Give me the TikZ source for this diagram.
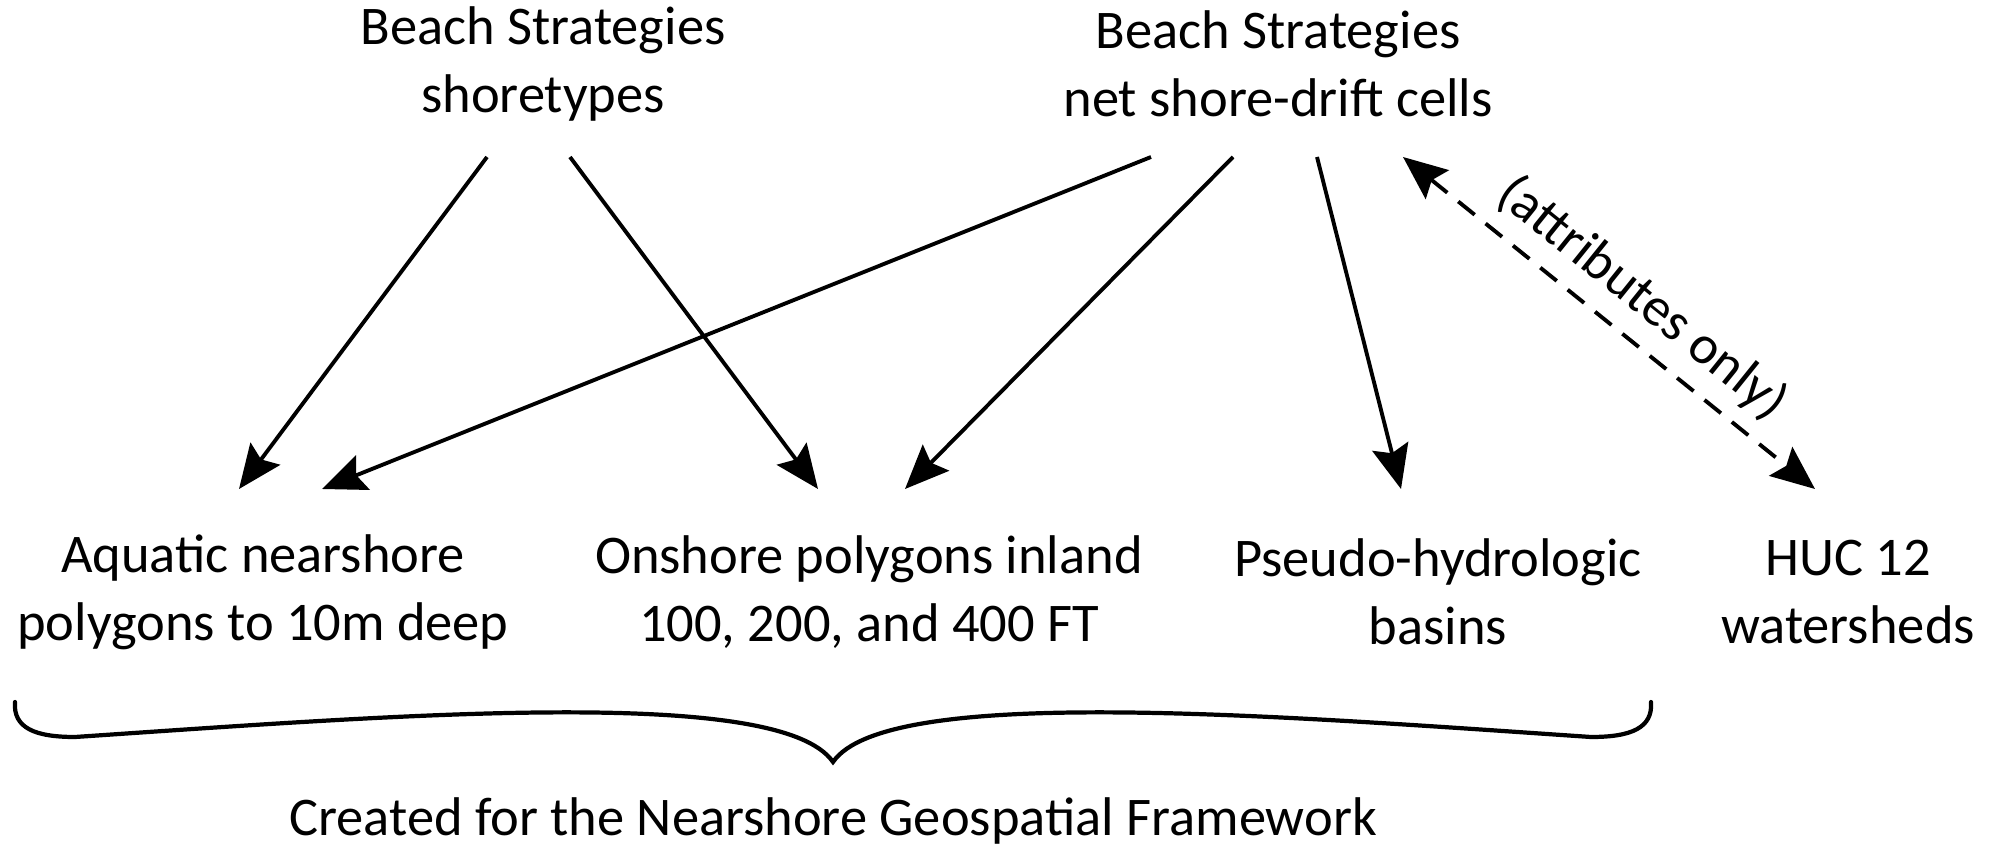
\documentclass[tikz,border=0pt]{standalone}
\usepackage{fontspec}
\setmainfont{Carlito}
\usetikzlibrary{calc, positioning, arrows.meta}

\begin{document}
\begin{tikzpicture}[x=0.02cm, y=-0.02cm, font=\fontsize{31}{38.5}\selectfont,
  layer/.style={align=center, inner sep=0pt},
  link/.style={line width=2.2pt, -{Stealth[length=25pt, width=21pt, inset=4pt]}},
  attr/.style={line width=2.2pt, dash pattern=on 12pt off 8pt,
    {Stealth[length=25pt, width=21pt, inset=4pt]}-{Stealth[length=25pt, width=21pt, inset=4pt]}}]
  \useasboundingbox (0,0) rectangle (2001,847);

  % sources
  \node[layer] (shoretypes) at (543,64) {Beach Strategies\\shoretypes};
  \node[layer] (driftcells) at (1278,64) {Beach Strategies\\net shore-drift cells};

  % products
  \node[layer] (aquatic) at (263,592) {Aquatic nearshore\\polygons to 10m deep};
  \node[layer] (onshore) at (869,592) {Onshore polygons inland\\100, 200, and 400 FT};
  \node[layer] (basins) at (1438,592) {Pseudo-hydrologic\\basins};
  \node[layer] (huc) at (1848,592) {HUC 12\\watersheds};

  \draw[link] ($(shoretypes)+(-56,93)$) -- ($(aquatic)+(-24,-103)$);
  \draw[link] ($(shoretypes)+(27,93)$) -- ($(onshore)+(-51,-103)$);
  \draw[link] ($(driftcells)+(-127,93)$) -- ($(aquatic)+(59,-103)$);
  \draw[link] ($(driftcells)+(-45,93)$) -- ($(onshore)+(36,-103)$);
  \draw[link] ($(driftcells)+(39,93)$) -- ($(basins)+(-37,-103)$);
  \draw[attr] ($(driftcells)+(125,93)$) -- ($(huc)+(-33,-103)$)
    node[pos=0.52, sloped, above=8pt, inner sep=0pt] (attrlabel) {(attributes only)};

  % brace under the products
  \draw[line width=2.4pt, line cap=round] (15,702) .. controls (13,728) and (35,737) .. (75,737)
    .. controls (400,715) and (780,685) .. (833,762)
    .. controls (886,685) and (1266,715) .. (1591,737)
    .. controls (1631,737) and (1653,728) .. (1651,702);
  \node[layer] (caption) at (833,821) {Created for the Nearshore Geospatial Framework};
\end{tikzpicture}
\end{document}
